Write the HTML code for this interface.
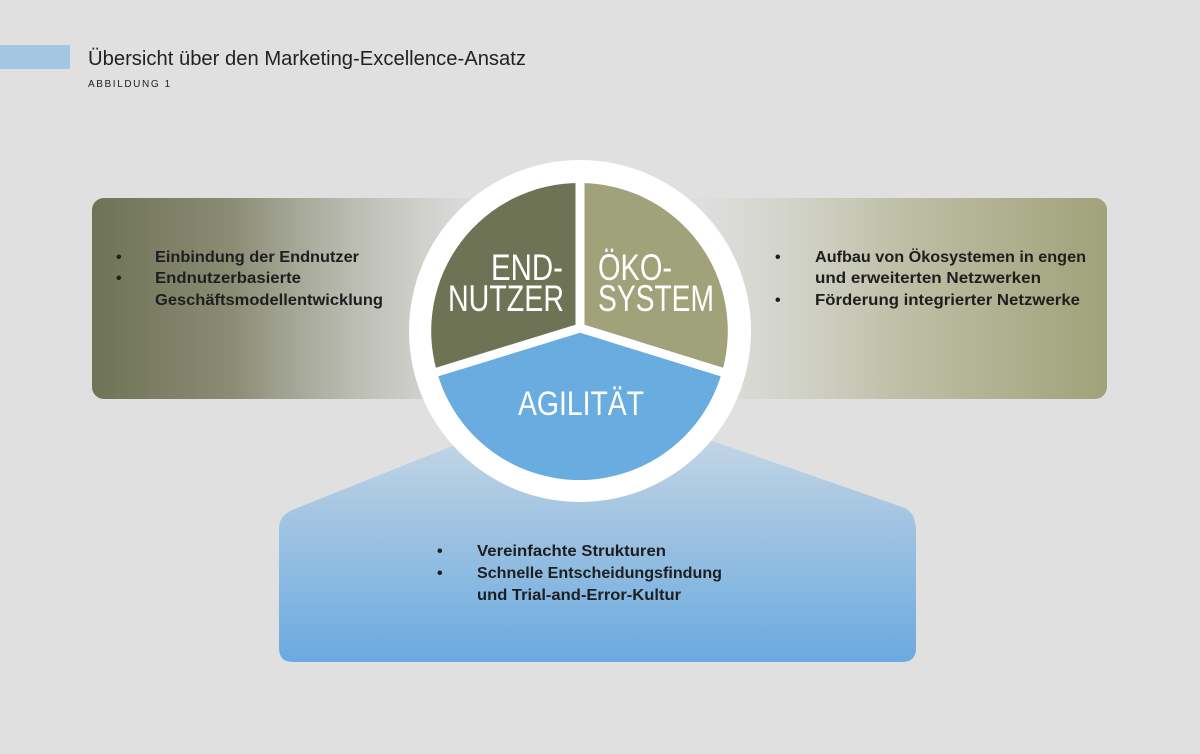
<!DOCTYPE html>
<html><head><meta charset="utf-8"><style>
html,body{margin:0;padding:0;}
body{width:1200px;height:749px;overflow:hidden;background:#e0e0e1;font-family:"Liberation Sans",sans-serif;}
</style></head><body>
<svg width="1200" height="749" viewBox="0 0 1200 749" xmlns="http://www.w3.org/2000/svg">
<defs>
<linearGradient id="gl" x1="0" y1="0" x2="1" y2="0">
<stop offset="0" stop-color="#6f7356"/><stop offset="0.35" stop-color="#8a8c74"/><stop offset="1" stop-color="#e0e0e1" stop-opacity="0.6"/>
</linearGradient>
<linearGradient id="gr" x1="0" y1="0" x2="1" y2="0">
<stop offset="0" stop-color="#e0e0e1" stop-opacity="0.6"/><stop offset="0.5" stop-color="#bfc0a8"/><stop offset="1" stop-color="#a0a279"/>
</linearGradient>
<linearGradient id="gb" x1="0" y1="0" x2="0" y2="1">
<stop offset="0" stop-color="#d6dfe8"/><stop offset="0.4" stop-color="#a9c8e2"/><stop offset="1" stop-color="#6aaae0"/>
</linearGradient>
</defs>
<rect x="0" y="45" width="70" height="24" fill="#a3c6e3"/>
<text x="88" y="65" font-size="20" fill="#222" textLength="438" lengthAdjust="spacingAndGlyphs">Übersicht über den Marketing-Excellence-Ansatz</text>
<text x="88" y="87" font-size="10" letter-spacing="1.6" fill="#222">ABBILDUNG 1</text>

<rect x="92" y="198" width="400" height="201" rx="12" fill="url(#gl)"/>
<rect x="680" y="198" width="427" height="201" rx="12" fill="url(#gr)"/>
<path d="M297 508 L580 395 L905 508 Q916 514 916 530 L916 648 Q916 662 902 662 L293 662 Q279 662 279 648 L279 528 Q279 514 297 508 Z" fill="url(#gb)"/>

<circle cx="580" cy="331" r="171" fill="#fff"/>
<path d="M580 328 L580 183 A148 148 0 0 0 437 372 Z" fill="#6f7356"/>
<path d="M580 328 L580 183 A148 148 0 0 1 722 372 Z" fill="#a0a279"/>
<path d="M580 328 L437 372 A148 148 0 0 0 722 372 Z" fill="#68ace0"/>
<path d="M580 180 L580 328 L434 373 M580 328 L725 373" stroke="#fff" stroke-width="9" fill="none"/>

<g font-size="37" fill="#fff">
<text x="491" y="280" textLength="72" lengthAdjust="spacingAndGlyphs">END-</text>
<text x="448" y="311" textLength="116" lengthAdjust="spacingAndGlyphs">NUTZER</text>
<text x="598" y="280" textLength="74" lengthAdjust="spacingAndGlyphs">ÖKO-</text>
<text x="598" y="311" textLength="116" lengthAdjust="spacingAndGlyphs">SYSTEM</text>
<text x="518" y="415" font-size="34" textLength="126" lengthAdjust="spacingAndGlyphs">AGILITÄT</text>
</g>
<g font-size="16" font-weight="bold" fill="#1e1e1e">
<text x="116" y="262">•</text><text x="155" y="262" textLength="204" lengthAdjust="spacingAndGlyphs">Einbindung der Endnutzer</text>
<text x="116" y="283">•</text><text x="155" y="283" textLength="146" lengthAdjust="spacingAndGlyphs">Endnutzerbasierte</text>
<text x="155" y="305" textLength="228" lengthAdjust="spacingAndGlyphs">Geschäftsmodellentwicklung</text>
<text x="775" y="262">•</text><text x="815" y="262" textLength="271" lengthAdjust="spacingAndGlyphs">Aufbau von Ökosystemen in engen</text>
<text x="815" y="283" textLength="226" lengthAdjust="spacingAndGlyphs">und erweiterten Netzwerken</text>
<text x="775" y="305">•</text><text x="815" y="305" textLength="265" lengthAdjust="spacingAndGlyphs">Förderung integrierter Netzwerke</text>
<text x="437" y="556">•</text><text x="477" y="556" textLength="189" lengthAdjust="spacingAndGlyphs">Vereinfachte Strukturen</text>
<text x="437" y="578">•</text><text x="477" y="578" textLength="245" lengthAdjust="spacingAndGlyphs">Schnelle Entscheidungsfindung</text>
<text x="477" y="600" textLength="204" lengthAdjust="spacingAndGlyphs">und Trial-and-Error-Kultur</text>
</g>
</svg>
</body></html>
